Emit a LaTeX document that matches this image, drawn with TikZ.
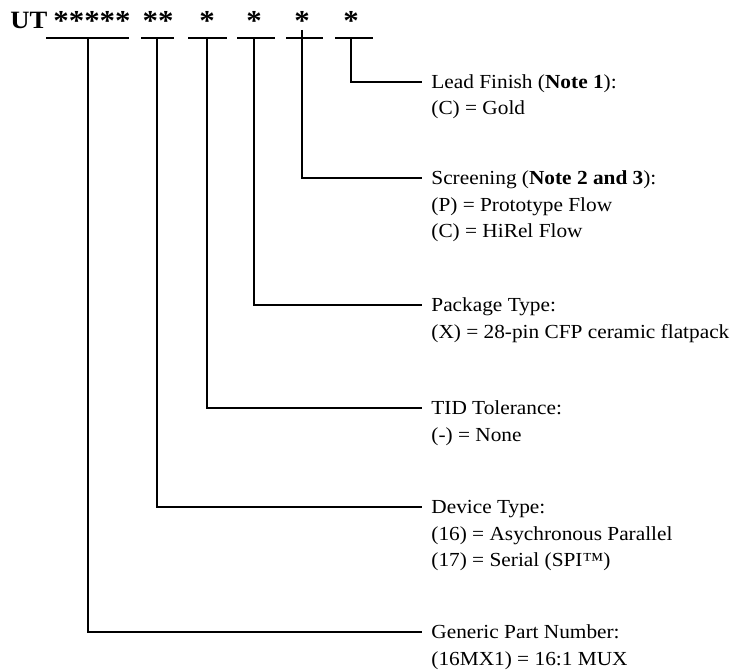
\documentclass[tikz,border=0pt]{standalone}
\usepackage{fontspec}
\setmainfont{Liberation Serif}[FakeStretch=1.07]
\begin{document}
\begin{tikzpicture}[x=1bp,y=-1bp,line width=2.8bp]
	\tikzset{every node/.style={inner sep=0pt},
		part/.style={font=\fontsize{29}{30}\selectfont\bfseries, anchor=base},
		lbl/.style={font=\fontsize{20}{26.5}\selectfont, anchor=base west, align=left}}
	\useasboundingbox (0,0) rectangle (734,671);
	% part number
	\node[font=\fontsize{25}{30}\selectfont\bfseries,anchor=base west] (ut) at (9,29) {UT};
	\node[part] (gp) at (92,31) {*****};
	\node[part] (dt) at (158,31) {**};
	\node[part] (td) at (207,31) {*};
	\node[part] (pk) at (254,31) {*};
	\node[part] (sc) at (302,31) {*};
	\node[part] (lf) at (351,31) {*};
	\draw (46,38)--(129,38) (141,38)--(174,38) (188,38)--(227,38)
		(237,38)--(275,38) (286,38)--(323,38) (335,38)--(373,38);
	\coordinate (ugp) at (88,38);
	\coordinate (udt) at (157,38);
	\coordinate (utd) at (207,38);
	\coordinate (upk) at (254,38);
	\coordinate (usc) at (302,30);
	\coordinate (ulf) at (351,38);
	% fields (base = last line)
	\node[lbl] (lead) at (430,115) {Lead Finish (\textbf{Note 1}):\\(C) = Gold};
	\node[lbl] (scr) at (430,237.5) {Screening (\textbf{Note 2 and 3}):\\(P) = Prototype Flow\\(C) = HiRel Flow};
	\node[lbl] (pkg) at (430,338) {Package Type:\\(X) = 28-pin CFP ceramic flatpack};
	\node[lbl] (tid) at (430,441) {TID Tolerance:\\(-) = None};
	\node[lbl] (dev) at (430,566.5) {Device Type:\\(16) = Asychronous Parallel\\(17) = Serial (SPI™)};
	\node[lbl] (gen) at (430,665) {Generic Part Number:\\(16MX1) = 16:1 MUX};
	\draw (ulf) |- ([xshift=-8bp,yshift=33bp]lead.base west);
	\draw (usc) |- ([xshift=-8bp,yshift=59.5bp]scr.base west);
	\draw (upk) |- ([xshift=-8bp,yshift=33bp]pkg.base west);
	\draw (utd) |- ([xshift=-8bp,yshift=33bp]tid.base west);
	\draw (udt) |- ([xshift=-8bp,yshift=59.5bp]dev.base west);
	\draw (ugp) |- ([xshift=-8bp,yshift=33bp]gen.base west);
\end{tikzpicture}
\end{document}
